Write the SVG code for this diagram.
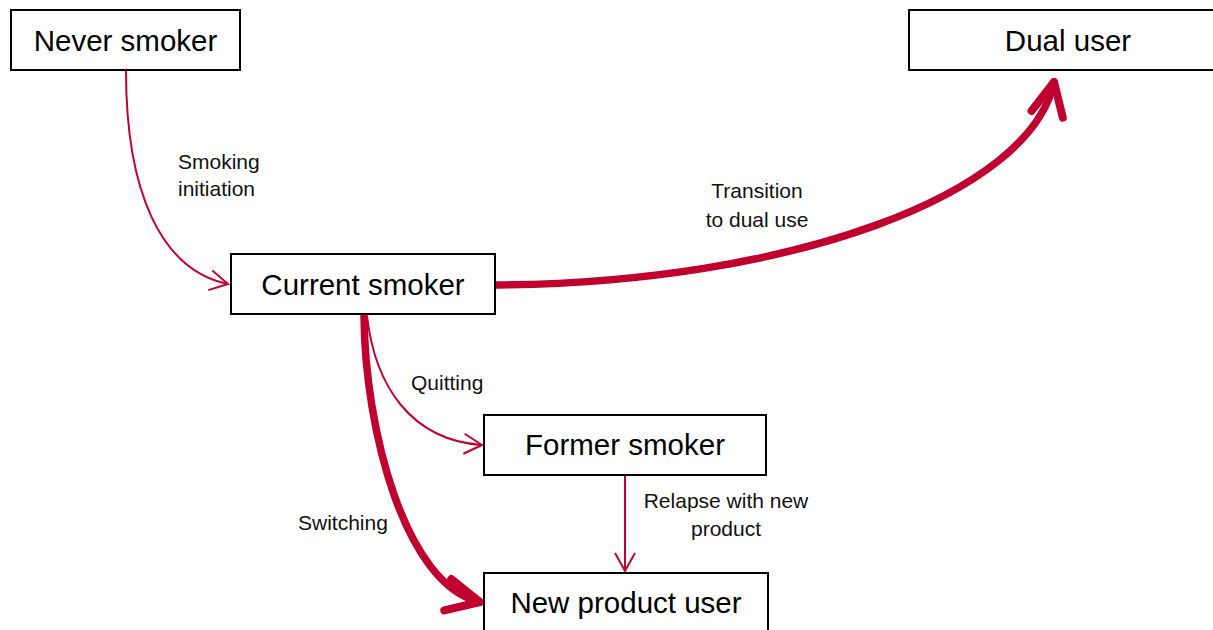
<svg xmlns="http://www.w3.org/2000/svg" width="1213" height="630" viewBox="0 0 1213 630">
<style>
.box{fill:#fff;stroke:#000;stroke-width:2}
.nt{font-family:"Liberation Sans",Arial,sans-serif;font-size:29.5px;fill:#000;text-anchor:middle}
.lb{font-family:"Liberation Sans",Arial,sans-serif;font-size:21px;fill:#111}
.thin{fill:none;stroke:#C0002F;stroke-width:2}
.thick{fill:none;stroke:#C0002F;stroke-width:7.5;stroke-linecap:round}
</style>
<defs>
<marker id="aThin" markerUnits="userSpaceOnUse" viewBox="-25 -15 30 30" refX="0" refY="0" markerWidth="30" markerHeight="30" orient="auto" overflow="visible">
<path d="M-18,-10 L0,0 L-18,10" fill="none" stroke="#C0002F" stroke-width="2"/>
</marker>
<marker id="aThick" markerUnits="userSpaceOnUse" viewBox="-45 -25 55 50" refX="0" refY="0" markerWidth="55" markerHeight="50" orient="auto" overflow="visible">
<path d="M-33,-16 L0,0 L-33,16" fill="none" stroke="#C0002F" stroke-width="8" stroke-linecap="round" stroke-linejoin="round"/>
</marker>
</defs>
<g id="connectors">
<path class="thin" d="M126,71 C126,190 160,270 228,284" marker-end="url(#aThin)"/>
<path class="thick" d="M496,285 C790,283 1030,195 1054,82" marker-end="url(#aThick)"/>
<path class="thin" d="M367,316 C375,385 410,440 482,445" marker-end="url(#aThin)"/>
<path class="thick" d="M364,316 C365,430 405,585 480,602" marker-end="url(#aThick)"/>
<path class="thin" d="M625,476 L625,571" marker-end="url(#aThin)"/>
<text class="lb" x="178" y="169">Smoking</text>
<text class="lb" x="178" y="196">initiation</text>
<text class="lb" x="757" y="198" text-anchor="middle">Transition</text>
<text class="lb" x="757" y="227" text-anchor="middle">to dual use</text>
<text class="lb" x="411" y="390">Quitting</text>
<text class="lb" x="726" y="508" text-anchor="middle">Relapse with new</text>
<text class="lb" x="726" y="536" text-anchor="middle">product</text>
<text class="lb" x="298" y="530">Switching</text>
</g>
<g id="never-smoker">
<rect class="box" x="11" y="10" width="229" height="60"/>
<text class="nt" x="125.5" y="51">Never smoker</text>
</g>
<g id="dual-user">
<rect class="box" x="909" y="10" width="318" height="60"/>
<text class="nt" x="1068" y="51">Dual user</text>
</g>
<g id="current-smoker">
<rect class="box" x="231" y="254" width="264" height="60"/>
<text class="nt" x="363" y="295">Current smoker</text>
</g>
<g id="former-smoker">
<rect class="box" x="484" y="415" width="282" height="60"/>
<text class="nt" x="625" y="455">Former smoker</text>
</g>
<g id="new-product-user">
<rect class="box" x="484" y="573" width="284" height="70"/>
<text class="nt" x="626" y="613">New product user</text>
</g>
</svg>
